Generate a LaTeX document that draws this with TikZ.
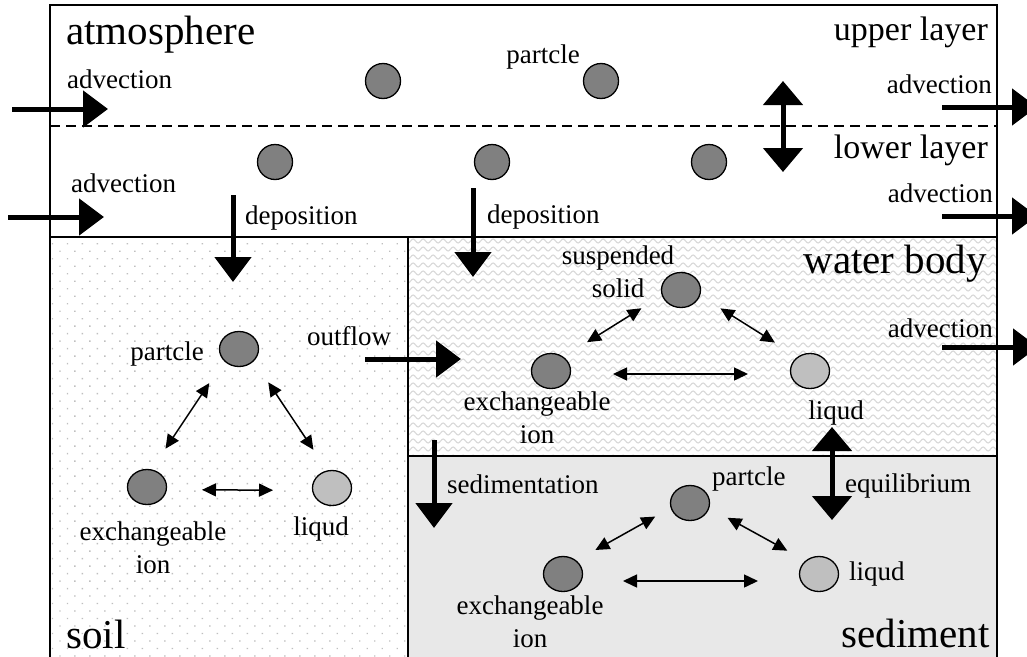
\documentclass[tikz,border=0pt]{standalone}
\usepackage{fontspec}
\setmainfont{Liberation Serif}
\usetikzlibrary{positioning,arrows.meta,shapes.geometric,patterns.meta,decorations.pathmorphing}

\begin{document}
\begin{tikzpicture}[x=1pt,y=-1pt,
  prt/.style={circle,draw,line width=1.3pt,fill=black!50,minimum size=35pt,inner sep=0pt},
  oval/.style={ellipse,draw,line width=1.3pt,fill=black!50,minimum width=39pt,minimum height=35pt,inner sep=0pt},
  liq/.style={oval,fill=black!25},
  lbl/.style={font=\fontsize{27}{29}\selectfont,inner sep=0pt},
  lyr/.style={font=\fontsize{34}{36}\selectfont,inner sep=0pt},
  big/.style={font=\fontsize{41}{44}\selectfont,inner sep=0pt},
  flux/.style={-{Triangle[length=25pt,width=36pt]},line width=5pt},
  dflux/.style={{Triangle[length=24pt,width=39pt]}-{Triangle[length=24pt,width=39pt]},line width=5pt},
  ex/.style={{Triangle[length=14pt,width=13pt]}-{Triangle[length=14pt,width=13pt]},line width=1.5pt},
  wave/.style={black!15,line width=1.1pt,decorate,decoration={snake,amplitude=2pt,segment length=10pt}},
  frm/.style={line width=1.4pt}]
  \useasboundingbox (0,0) rectangle (1027,656);
  % compartments
  \fill[white] (50,5) rectangle (997,237);
  \fill[pattern={Dots[distance=10.6pt,radius=1pt,angle=45]},pattern color=black!25] (50,237) rectangle (408,660);
  \fill[black!9] (408,456) rectangle (997,660);
  \begin{scope}
    \clip (408,237) rectangle (997,456);
    \foreach \y in {241,249,...,457}
      \draw[wave] (400,\y) -- (1005,\y);
  \end{scope}
  \draw[frm] (50,660) -- (50,5) -- (997,5) -- (997,660);
  \draw[frm,dashed,dash pattern=on 10pt off 6pt,line width=1.2pt] (50,126) -- (997,126);
  \draw[frm] (50,237) -- (997,237);
  \draw[frm] (408,237) -- (408,660);
  \draw[frm] (408,456) -- (997,456);

  % atmosphere
  \node[big,anchor=base west](atm) at (66,44) {atmosphere};
  \node[lyr,anchor=base east](upl) at (988,40) {upper layer};
  \node[lyr,anchor=base east](lol) at (988,158) {lower layer};
  \node[prt](aU1) at (383,81) {};
  \node[prt](aU2) at (601,81) {};
  \node[lbl,anchor=base](aPrtL) at (543,63) {partcle};
  \node[prt](aL1) at (275,162) {};
  \node[prt](aL2) at (492,162) {};
  \node[prt](aL3) at (709,162) {};
  \node[lbl,anchor=base west](advUL) at (67,88) {advection};
  \node[lbl,anchor=base west](advLL) at (71,192) {advection};
  \node[lbl,anchor=base east](advUR) at (992,93) {advection};
  \node[lbl,anchor=base east](advLR) at (993,202) {advection};
  \node[lbl,anchor=base west](depL) at (245,224) {deposition};
  \node[lbl,anchor=base west](depR) at (487,223) {deposition};
  \coordinate (advULs) at (12,109); \coordinate (advULe) at (108,109);
  \coordinate (advLLs) at (8,217);  \coordinate (advLLe) at (104,217);
  \coordinate (advURs) at (942,107); \coordinate (advURe) at (1037,107);
  \coordinate (advLRs) at (942,216); \coordinate (advLRe) at (1037,216);
  \coordinate (mixT) at (783,81); \coordinate (mixB) at (783,172);
  \coordinate (depLs) at (233,195); \coordinate (depLe) at (233,282);
  \coordinate (depRs) at (473,188); \coordinate (depRe) at (473,277);
  \draw[flux] (advULs) -- (advULe);
  \draw[flux] (advLLs) -- (advLLe);
  \draw[flux] (advURs) -- (advURe);
  \draw[flux] (advLRs) -- (advLRe);
  \draw[dflux] (mixT) -- (mixB);
  \draw[flux] (depLs) -- (depLe);
  \draw[flux] (depRs) -- (depRe);

  % soil
  \node[big,anchor=base west](soil) at (66,648) {soil};
  \node[oval](sPrt) at (239,349) {};
  \node[oval](sIon) at (147,487) {};
  \node[liq](sLiq) at (332,488) {};
  \node[lbl,anchor=base](sPrtL) at (167,360) {partcle};
  \node[lbl,anchor=base,align=center](sIonL) at (153,573) {exchangeable\\[4pt]ion};
  \node[lbl,anchor=base](sLiqL) at (321,535) {liqud};
  \draw[ex,shorten <=41pt,shorten >=46pt] ([xshift=-7pt]sPrt.center) -- ([xshift=-7pt]sIon.center);
  \draw[ex,shorten <=40pt,shorten >=46pt] ([xshift=7pt]sPrt.center) -- ([xshift=7pt]sLiq.center);
  \draw[ex,shorten <=55pt,shorten >=59pt] ([yshift=-2.5pt]sIon.center) -- ([yshift=-2.5pt]sLiq.center);
  \node[lbl,anchor=base](outL) at (349,345) {outflow};
  \coordinate (outS) at (365,359); \coordinate (outE) at (461,359);
  \draw[flux] (outS) -- (outE);

  % water body
  \node[big,anchor=base east](wat) at (987,273) {water body};
  \node[oval](wSus) at (681,290) {};
  \node[oval](wIon) at (551,371) {};
  \node[liq](wLiq) at (810,371) {};
  \node[lbl,anchor=base,align=center](wSusL) at (618,297) {suspended\\[4pt]solid};
  \node[lbl,anchor=base,align=center](wIonL) at (537,443) {exchangeable\\[4pt]ion};
  \node[lbl,anchor=base](wLiqL) at (836,419) {liqud};
  \draw[ex,shorten <=43pt,shorten >=46pt] ([xshift=-3pt,yshift=4.5pt]wSus.center) -- ([xshift=-3pt,yshift=4.5pt]wIon.center);
  \draw[ex,shorten <=43pt,shorten >=45pt] ([xshift=3pt,yshift=4.5pt]wSus.center) -- ([xshift=3pt,yshift=4.5pt]wLiq.center);
  \draw[ex,shorten <=62pt,shorten >=62pt] ([yshift=-3pt]wIon.center) -- ([yshift=-3pt]wLiq.center);
  \node[lbl,anchor=base east](advW) at (993,337) {advection};
  \coordinate (advWs) at (942,347); \coordinate (advWe) at (1038,347);
  \draw[flux] (advWs) -- (advWe);

  % sediment
  \node[big,anchor=base east](sed) at (990,647) {sediment};
  \node[oval](dPrt) at (690,503) {};
  \node[oval](dIon) at (563,574) {};
  \node[liq](dLiq) at (819,574) {};
  \node[lbl,anchor=base west](dPrtL) at (712,485) {partcle};
  \node[lbl,anchor=base,align=center](dIonL) at (530,647) {exchangeable\\[4pt]ion};
  \node[lbl,anchor=base west](dLiqL) at (849,580) {liqud};
  \draw[ex,shorten <=37pt,shorten >=40pt] ([xshift=-2.5pt,yshift=4.5pt]dPrt.center) -- ([xshift=-2.5pt,yshift=4.5pt]dIon.center);
  \draw[ex,shorten <=40pt,shorten >=39pt] ([xshift=2.5pt,yshift=4.5pt]dPrt.center) -- ([xshift=2.5pt,yshift=4.5pt]dLiq.center);
  \draw[ex,shorten <=60pt,shorten >=61pt] ([yshift=-7pt]dIon.center) -- ([yshift=-7pt]dLiq.center);
  \node[lbl,anchor=base west](sedL) at (447,493) {sedimentation};
  \node[lbl,anchor=base west](eqL) at (845,492) {equilibrium};
  \coordinate (sedS) at (434,440); \coordinate (sedE) at (434,528);
  \coordinate (eqT) at (832,427); \coordinate (eqB) at (832,520);
  \draw[flux] (sedS) -- (sedE);
  \draw[dflux] (eqT) -- (eqB);
\end{tikzpicture}
\end{document}
